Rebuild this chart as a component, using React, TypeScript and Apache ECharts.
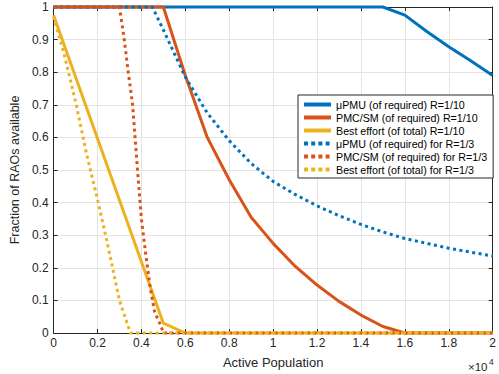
import React, { useEffect, useRef } from "react";
import * as echarts from "echarts";

// x values in units of 10^4 (active population)
const names = [
  "μPMU (of required) R=1/10",
  "PMC/SM (of required) R=1/10",
  "Best effort (of total) R=1/10",
  "μPMU (of required) for R=1/3",
  "PMC/SM (of required) for R=1/3",
  "Best effort (of total) for R=1/3",
];

const pmuX10 = [0, 1.5, 1.6, 1.7, 1.8, 1.9, 2.0];
const pmuY10 = [1, 1, 0.975, 0.925, 0.878, 0.835, 0.79];

const pmcX10 = [0, 0.5, 0.6, 0.7, 0.8, 0.9, 1.0, 1.1, 1.2, 1.3, 1.4, 1.5, 1.6, 2.0];
const pmcY10 = [1, 1, 0.79, 0.6, 0.47, 0.355, 0.275, 0.205, 0.147, 0.097, 0.055, 0.02, 0, 0];

const beX10 = [0, 0.5, 0.6, 2.0];
const beY10 = [0.975, 0.03, 0, 0];

const pmuX3 = [0, 0.45, 0.5, 0.6, 0.7, 0.8, 0.9, 1.0, 1.1, 1.2, 1.3, 1.4, 1.5, 1.6, 1.7, 1.8, 1.9, 2.0];
const pmuY3 = [1, 1, 0.93, 0.785, 0.675, 0.59, 0.52, 0.465, 0.425, 0.39, 0.36, 0.333, 0.31, 0.29, 0.275, 0.26, 0.248, 0.236];

const pmcX3 = [0, 0.3, 0.32, 0.34, 0.36, 0.38, 0.4, 0.42, 0.44, 0.46, 0.49, 0.5, 2.0];
const pmcY3 = [1, 1, 0.91, 0.8, 0.7, 0.52, 0.35, 0.24, 0.14, 0.065, 0.02, 0, 0];

const beX3 = [0, 0.05, 0.1, 0.15, 0.2, 0.25, 0.3, 0.35, 2.0];
const beY3 = [0.97, 0.85, 0.71, 0.55, 0.41, 0.26, 0.1, 0, 0];

const colors = ["#0072BD", "#D95319", "#EDB120"];

const FONT = "Liberation Sans, Arial, Helvetica, sans-serif";
const AX = "#262626";

function pairs(xs: number[], ys: number[]) {
  return xs.map((x, i) => [x, ys[i]]);
}

export default function App() {
  const ref = useRef<HTMLDivElement>(null);
  useEffect(() => {
    if (!ref.current) return;
    const chart = echarts.init(ref.current, undefined, { renderer: "svg" });
    const fmt = (v: number) => String(Math.round(v * 10) / 10);
    const sets = [
      [pmuX10, pmuY10, 0, "solid"],
      [pmcX10, pmcY10, 1, "solid"],
      [beX10, beY10, 2, "solid"],
      [pmuX3, pmuY3, 0, "dotted"],
      [pmcX3, pmcY3, 1, "dotted"],
      [beX3, beY3, 2, "dotted"],
    ] as const;
    const series = sets.map((s, i) => ({
      name: names[i],
      type: "line",
      data: pairs(s[0] as number[], s[1] as number[]),
      symbol: "none",
      clip: false,
      z: 2 + i,
      lineStyle: {
        color: colors[s[2] as number],
        width: 3,
        type: s[3] === "dotted" ? [3, 3.5] : "solid",
        cap: "butt",
      },
      itemStyle: { color: colors[s[2] as number] },
    }));
    const legendData = sets.map((s, i) => ({
      name: names[i],
      lineStyle: {
        width: 4,
        type: s[3] === "dotted" ? [4, 3.2] : "solid",
        cap: "butt",
      },
    }));
    const axisCommon = {
      axisLine: { show: true, onZero: false, lineStyle: { color: AX, width: 1 } },
      axisTick: { show: true, inside: true, length: 4, lineStyle: { color: AX } },
    };
    chart.setOption({
      animation: false,
      grid: { left: 48, top: 7, right: 2, bottom: 41 },
      xAxis: [
        {
          type: "value",
          min: 0,
          max: 2,
          interval: 0.2,
          position: "bottom",
          ...axisCommon,
          axisLabel: { margin: 4, color: AX, fontSize: 12, fontFamily: FONT, formatter: fmt },
          splitLine: { show: true, lineStyle: { color: "#e3e3e3", width: 1 } },
          name: "Active Population",
          nameLocation: "middle",
          nameGap: 23,
          nameTextStyle: { color: AX, fontSize: 13, fontFamily: FONT },
        },
        {
          type: "value",
          min: 0,
          max: 2,
          interval: 0.2,
          position: "top",
          ...axisCommon,
          axisLabel: { show: false },
          splitLine: { show: false },
        },
      ],
      yAxis: [
        {
          type: "value",
          min: 0,
          max: 1,
          interval: 0.1,
          position: "left",
          ...axisCommon,
          axisLabel: { margin: 5, color: AX, fontSize: 12, fontFamily: FONT, formatter: fmt },
          splitLine: { show: true, lineStyle: { color: "#e3e3e3", width: 1 } },
          name: "Fraction of RAOs available",
          nameLocation: "middle",
          nameGap: 24,
          nameTextStyle: { color: AX, fontSize: 12.5, fontFamily: FONT },
        },
        {
          type: "value",
          min: 0,
          max: 1,
          interval: 0.1,
          position: "right",
          ...axisCommon,
          axisLabel: { show: false },
          splitLine: { show: false },
        },
      ],
      legend: {
        orient: "vertical",
        left: 298,
        top: 95,
        itemWidth: 27,
        itemHeight: 8,
        itemGap: 2,
        padding: [4, 6, 3, 4],
        backgroundColor: "#fff",
        borderColor: AX,
        borderWidth: 1,
        borderRadius: 0,
        itemStyle: { opacity: 0 },
        lineStyle: { width: 4 },
        textStyle: { fontSize: 10.7, color: "#000", fontFamily: FONT },
        data: legendData,
      },
      graphic: [
        {
          type: "text",
          x: 468,
          y: 373,
          style: { text: "×10", fontSize: 11.5, fill: AX, fontFamily: FONT, verticalAlign: "bottom", align: "left" },
        },
        {
          type: "text",
          x: 489,
          y: 366,
          style: { text: "4", fontSize: 8.5, fill: AX, fontFamily: FONT, verticalAlign: "bottom", align: "left" },
        },
      ],
      series,
    });
    return () => chart.dispose();
  }, []);
  return (
    <div
      ref={ref}
      style={{ position: "fixed", left: 0, top: 0, width: 499, height: 374, background: "#fff" }}
    />
  );
}
